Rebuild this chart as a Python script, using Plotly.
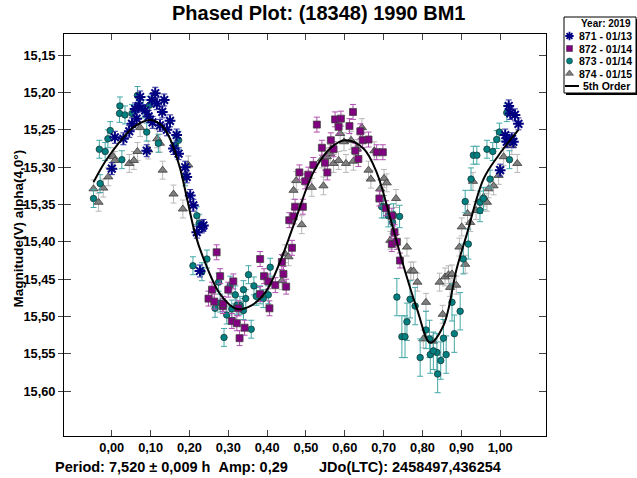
import plotly.graph_objects as go

# ---------------- data ----------------
s871_phase = [0.073, 0.112, 0.135, 0.103, 0.070, 0.064, 0.116, 0.086, 0.030, 0.008,
              0.090, 0.167, 0.159, 0.172, 0.189, 0.193, 0.202, 0.210, 0.219, 0.232,
              0.236, 0.000, 0.124, 0.142, 0.052, 0.227, 0.095, 0.105, 0.130, 0.060,
              0.045, 0.150, 1.026, 1.038, 1.047, 1.013, 1.030, 1.034, 1.000, 1.017,
              1.022]
s871_mag = [15.206, 15.201, 15.210, 15.210, 15.218, 15.235, 15.215, 15.224, 15.262, 15.260,
            15.278, 15.257, 15.275, 15.282, 15.300, 15.313, 15.338, 15.351, 15.387, 15.380,
            15.378, 15.302, 15.244, 15.250, 15.242, 15.439, 15.232, 15.240, 15.226, 15.222,
            15.252, 15.238, 15.228, 15.230, 15.242, 15.257, 15.262, 15.266, 15.304, 15.266,
            15.218]
s871_err = 0.008

s872_phase = [0.270, 0.279, 0.258, 0.249, 0.264, 0.313, 0.300, 0.286, 0.326, 0.309,
              0.322, 0.342, 0.329, 0.382, 0.392, 0.403, 0.421, 0.438, 0.442, 0.449,
              0.406, 0.382, 0.464, 0.457, 0.287, 0.528, 0.575, 0.590, 0.621, 0.584,
              0.612, 0.564, 0.541, 0.571, 0.640, 0.646, 0.661, 0.627, 0.635, 0.682,
              0.698, 0.519, 0.549, 0.555, 0.483, 0.506, 0.498, 0.472, 0.492, 0.468,
              0.689, 0.706, 0.721, 0.728, 0.721, 0.734, 0.742]
s872_mag = [15.414, 15.446, 15.464, 15.476, 15.480, 15.453, 15.464, 15.486, 15.489, 15.506,
            15.509, 15.515, 15.529, 15.423, 15.446, 15.453, 15.458, 15.427, 15.443, 15.460,
            15.489, 15.470, 15.408, 15.371, 15.483, 15.243, 15.236, 15.235, 15.226, 15.246,
            15.245, 15.264, 15.274, 15.276, 15.252, 15.264, 15.263, 15.278, 15.289, 15.280,
            15.280, 15.297, 15.294, 15.307, 15.307, 15.310, 15.319, 15.353, 15.353, 15.366,
            15.342, 15.355, 15.365, 15.387, 15.403, 15.400, 15.425]
s872_err = 0.010

s873_phase = [0.020, -0.004, -0.010, -0.032, -0.017, 0.026, -0.030, -0.047, 0.090, 0.052,
              0.034, 0.081, 0.120, 0.163, 0.172, 0.189, 0.219, 0.066, 0.021, 0.097,
              0.209, 0.232, 0.245, 0.275, 0.279, 0.266, 0.296, 0.309, 0.318, 0.305,
              0.339, 0.345, 0.352, 0.366, 0.372, 0.330, 0.359, 0.289, 0.225, 0.408,
              0.403, 0.390, 0.382, 0.339, 0.322,
              0.700, 0.712, 0.725, 0.741, 0.695, 0.723, 0.734, 0.768, 0.781, 0.760,
              0.747, 0.755, 0.794, 0.809, 0.820, 0.837, 0.828, 0.839, 0.847, 0.854,
              0.861, 0.882, 0.897, 0.876, 0.918, 0.905, 0.910, 0.948, 0.818, 0.925,
              0.931, 0.940, 0.966, 0.981, 0.991, 0.998, 1.017, 1.024, 0.948, 0.957,
              0.974]
s873_mag = [15.228, 15.251, 15.262, 15.276, 15.279, 15.290, 15.322, 15.342, 15.253, 15.228,
            15.230, 15.222, 15.268, 15.271, 15.264, 15.313, 15.365, 15.204, 15.218, 15.217,
            15.432, 15.440, 15.423, 15.454, 15.482, 15.489, 15.498, 15.490, 15.471, 15.458,
            15.464, 15.476, 15.444, 15.459, 15.473, 15.485, 15.517, 15.528, 15.375, 15.434,
            15.471, 15.476, 15.471, 15.492, 15.485,
            15.353, 15.365, 15.364, 15.366, 15.353, 15.374, 15.474, 15.477, 15.486, 15.507,
            15.527, 15.527, 15.555, 15.518, 15.551, 15.548, 15.546, 15.577, 15.559, 15.529,
            15.551, 15.523, 15.493, 15.481, 15.403, 15.423, 15.346, 15.347, 15.530, 15.316,
            15.284, 15.284, 15.276, 15.279, 15.263, 15.253, 15.227, 15.290, 15.358, 15.342,
            15.316]
s873_err = [0.012, 0.012, 0.012, 0.012, 0.012, 0.012, 0.012, 0.012, 0.012, 0.012,
            0.012, 0.012, 0.012, 0.012, 0.012, 0.012, 0.012, 0.012, 0.012, 0.012,
            0.012, 0.012, 0.012, 0.012, 0.012, 0.012, 0.012, 0.012, 0.012, 0.012,
            0.012, 0.012, 0.012, 0.012, 0.012, 0.012, 0.012, 0.012, 0.012, 0.012,
            0.012, 0.012, 0.012, 0.012, 0.012,
            0.015, 0.015, 0.015, 0.015, 0.015, 0.015, 0.025, 0.025, 0.025, 0.025,
            0.028, 0.028, 0.025, 0.025, 0.025, 0.025, 0.025, 0.025, 0.025, 0.025,
            0.025, 0.025, 0.025, 0.025, 0.020, 0.020, 0.015, 0.015, 0.025, 0.015,
            0.012, 0.012, 0.012, 0.012, 0.012, 0.012, 0.012, 0.012, 0.015, 0.015,
            0.012]

s874_phase = [-0.047, -0.034, -0.022, -0.009, 0.004, 0.008, 0.045, 0.057, 0.066, 0.094,
              0.073, 0.131, 0.117, 0.124, 0.159, 0.183, 0.197, 0.489, 0.446, 0.455,
              0.438, 0.468, 0.475, 0.515, 0.545, 0.541, 0.554, 0.562, 0.571, 0.584,
              0.603, 0.622, 0.588, 0.598, 0.616, 0.631, 0.644, 0.661, 0.667, 0.676,
              0.701, 0.708, 0.732, 0.691, 0.717, 0.760, 0.770, 0.777, 0.787, 0.809,
              0.844, 0.802, 0.827, 0.858, 0.867, 0.876, 0.871, 0.887, 0.852, 0.901,
              0.895, 0.910, 0.923, 0.938, 0.966, 0.916, 1.044, 1.030, 1.009, 0.996,
              0.983, 0.970, 0.957, 0.930]
s874_mag = [15.329, 15.347, 15.328, 15.313, 15.286, 15.291, 15.295, 15.291, 15.279, 15.277,
            15.247, 15.304, 15.262, 15.268, 15.336, 15.356, 15.297, 15.377, 15.416, 15.420,
            15.452, 15.331, 15.318, 15.327, 15.325, 15.289, 15.286, 15.282, 15.295, 15.291,
            15.295, 15.292, 15.255, 15.266, 15.264, 15.275, 15.247, 15.304, 15.316, 15.278,
            15.315, 15.321, 15.342, 15.329, 15.398, 15.407, 15.439, 15.439, 15.454, 15.481,
            15.454, 15.530, 15.533, 15.447, 15.444, 15.443, 15.461, 15.458, 15.497, 15.380,
            15.407, 15.430, 15.374, 15.358, 15.347, 15.362, 15.295, 15.271, 15.286, 15.311,
            15.325, 15.329, 15.340, 15.319]
s874_err = 0.012

fit_phase = [-0.047, -0.02, 0.0, 0.03, 0.06, 0.10, 0.13, 0.15, 0.175, 0.195,
             0.215, 0.236, 0.279, 0.322, 0.36, 0.399, 0.433, 0.468, 0.519, 0.562,
             0.601, 0.648, 0.682, 0.717, 0.751, 0.786, 0.82, 0.854, 0.888, 0.914,
             0.957, 0.996, 1.047]
fit_mag = [15.320, 15.295, 15.280, 15.260, 15.245, 15.237, 15.245, 15.262, 15.300, 15.345,
           15.390, 15.422, 15.470, 15.490, 15.485, 15.465, 15.427, 15.378, 15.307, 15.275,
           15.264, 15.275, 15.307, 15.368, 15.432, 15.490, 15.535, 15.512, 15.436, 15.390,
           15.316, 15.284, 15.250]

x_ticks = [0.0, 0.1, 0.2, 0.3, 0.4, 0.5, 0.6, 0.7, 0.8, 0.9, 1.0]
x_tick_labels = ["0,00", "0,10", "0,20", "0,30", "0,40", "0,50", "0,60", "0,70", "0,80", "0,90", "1,00"]
y_ticks = [15.15, 15.20, 15.25, 15.30, 15.35, 15.40, 15.45, 15.50, 15.55, 15.60]
y_tick_labels = ["15,15", "15,20", "15,25", "15,30", "15,35", "15,40", "15,45", "15,50", "15,55", "15,60"]

legend_title = "Year: 2019"
legend_labels = ["871 - 01/13", "872 - 01/14", "873 - 01/14", "874 - 01/15", "5th Order"]

# ---------------- figure ----------------
W, H = 637, 478
FAM = "Liberation Sans, Arial, sans-serif"

def bold(size, color="black"):
    return dict(family=FAM, size=size, color=color, weight="bold")

fig = go.Figure()

def add_series(px, py, err, symbol, size, fill, edge, ewidth, errcol):
    if isinstance(err, list):
        ed = dict(type="data", array=err, visible=True, color=errcol, thickness=1, width=3)
    else:
        ed = dict(type="constant", value=err, visible=True, color=errcol, thickness=1, width=3)
    fig.add_trace(go.Scatter(
        x=px, y=py, mode="markers", error_y=ed,
        marker=dict(symbol=symbol, size=size, color=fill, line=dict(color=edge, width=ewidth)),
        showlegend=False, hoverinfo="skip"))

add_series(s874_phase, s874_mag, s874_err, "triangle-up", 8, "#7f7f7f", "#3a3a3a", 0.8, "#b8b8b8")
add_series(s873_phase, s873_mag, s873_err, "circle", 6.5, "#008080", "#1a3a3a", 0.8, "#45a8a8")
add_series(s872_phase, s872_mag, s872_err, "square", 7, "#800080", "#404040", 0.8, "#b050b0")
add_series(s871_phase, s871_mag, s871_err, "asterisk-open", 9, "#000080", "#000080", 2, "#2a2a9a")

fig.add_trace(go.Scatter(x=fit_phase, y=fit_mag, mode="lines", line=dict(color="black", width=2, shape="spline"),
                         showlegend=False, hoverinfo="skip"))

# invisible trace for the inner tick axis
fig.add_trace(go.Scatter(x=[None], y=[None], xaxis="x", yaxis="y3", showlegend=False, hoverinfo="skip"))

# legend symbols in pixel overlay axes
leg_x = 569.5
leg_rows = [36, 48.5, 61, 73.5, 86]
leg_specs = [("asterisk-open", 7, "#000080", "#000080", 1.8),
             ("square", 6, "#800080", "#404040", 0.6),
             ("circle", 6, "#008080", "#1a3a3a", 0.6),
             ("triangle-up", 7, "#7f7f7f", "#3a3a3a", 0.6)]
for (sym, sz, fc, ec, lw), yy in zip(leg_specs, leg_rows[:4]):
    fig.add_trace(go.Scatter(x=[leg_x], y=[yy], xaxis="x2", yaxis="y2", mode="markers",
                             marker=dict(symbol=sym, size=sz, color=fc, line=dict(color=ec, width=lw)),
                             showlegend=False, hoverinfo="skip"))
fig.add_trace(go.Scatter(x=[565, 579], y=[leg_rows[4], leg_rows[4]], xaxis="x2", yaxis="y2", mode="lines",
                         line=dict(color="black", width=2), showlegend=False, hoverinfo="skip"))

x0, x1 = 64, 546
y0, y1 = 33.5, 436

fig.update_layout(
    width=W, height=H,
    margin=dict(l=0, r=0, t=0, b=0),
    paper_bgcolor="white", plot_bgcolor="rgba(0,0,0,0)",
    showlegend=False, hovermode=False, dragmode=False,
    xaxis=dict(domain=[x0 / W, x1 / W], range=[-0.123, 1.118], tickvals=x_ticks, ticktext=x_tick_labels,
               ticks="inside", ticklen=6, tickcolor="#444", mirror="ticks", showline=True,
               linecolor="black", linewidth=1, showgrid=False, zeroline=False,
               tickfont=bold(12.8), anchor="y"),
    yaxis=dict(domain=[(H - y1) / H, (H - y0) / H], range=[15.66, 15.121], tickvals=y_ticks,
               ticktext=y_tick_labels, ticks="outside", ticklen=5, tickcolor="#444", showline=True,
               mirror=True, linecolor="black", linewidth=1, showgrid=False, zeroline=False,
               tickfont=bold(12.8), anchor="x"),
    yaxis3=dict(overlaying="y", side="left", range=[15.66, 15.121], tickvals=y_ticks, ticks="inside",
                ticklen=7, tickcolor="#444", mirror="ticks", showline=False, showticklabels=False,
                showgrid=False, zeroline=False, anchor="x"),
    xaxis2=dict(domain=[0, 1], range=[0, W], visible=False, anchor="y2", fixedrange=True),
    yaxis2=dict(domain=[0, 1], range=[H, 0], visible=False, anchor="x2", fixedrange=True),
)

# legend box with shadow
fig.add_shape(type="rect", xref="x2", yref="y2", x0=566, y0=19, x1=638, y1=95,
              fillcolor="black", line=dict(width=0), layer="below")
fig.add_shape(type="rect", xref="x2", yref="y2", x0=564, y0=17, x1=636, y1=93,
              fillcolor="white", line=dict(color="black", width=1), layer="below")

ann = []
ann.append(dict(text=legend_title, x=633, y=23, xanchor="right", yanchor="middle", font=bold(10)))
for lab, yy in zip(legend_labels[:4], leg_rows[:4]):
    ann.append(dict(text=lab, x=577, y=yy, xanchor="left", yanchor="middle", font=bold(10.5)))
ann.append(dict(text=legend_labels[4], x=581, y=leg_rows[4], xanchor="left", yanchor="middle", font=bold(10.5)))

ann.append(dict(text="Phased Plot: (18348) 1990 BM1", x=318.5, y=13, xanchor="center", yanchor="middle",
                font=bold(20)))
ann.append(dict(text="Period: 7,520 \u00b1 0,009 h\u00a0\u00a0Amp: 0,29", x=53, y=466.5, xanchor="left",
                yanchor="middle", font=bold(14.5)))
ann.append(dict(text="JDo(LTC): 2458497,436254", x=316.5, y=466.5, xanchor="left", yanchor="middle",
                font=bold(14.5)))
ann.append(dict(text="Magnitude(V) alpha(4,0\u00b0)", x=17.5, y=229, textangle=-90, xanchor="center",
                yanchor="middle", font=bold(13.5)))
for a in ann:
    a.update(xref="x2", yref="y2", showarrow=False)
fig.update_layout(annotations=ann)

fig.write_html("out.html", config={"displayModeBar": False, "staticPlot": True},
               post_script="document.body.style.margin='0';document.body.style.padding='0';")
